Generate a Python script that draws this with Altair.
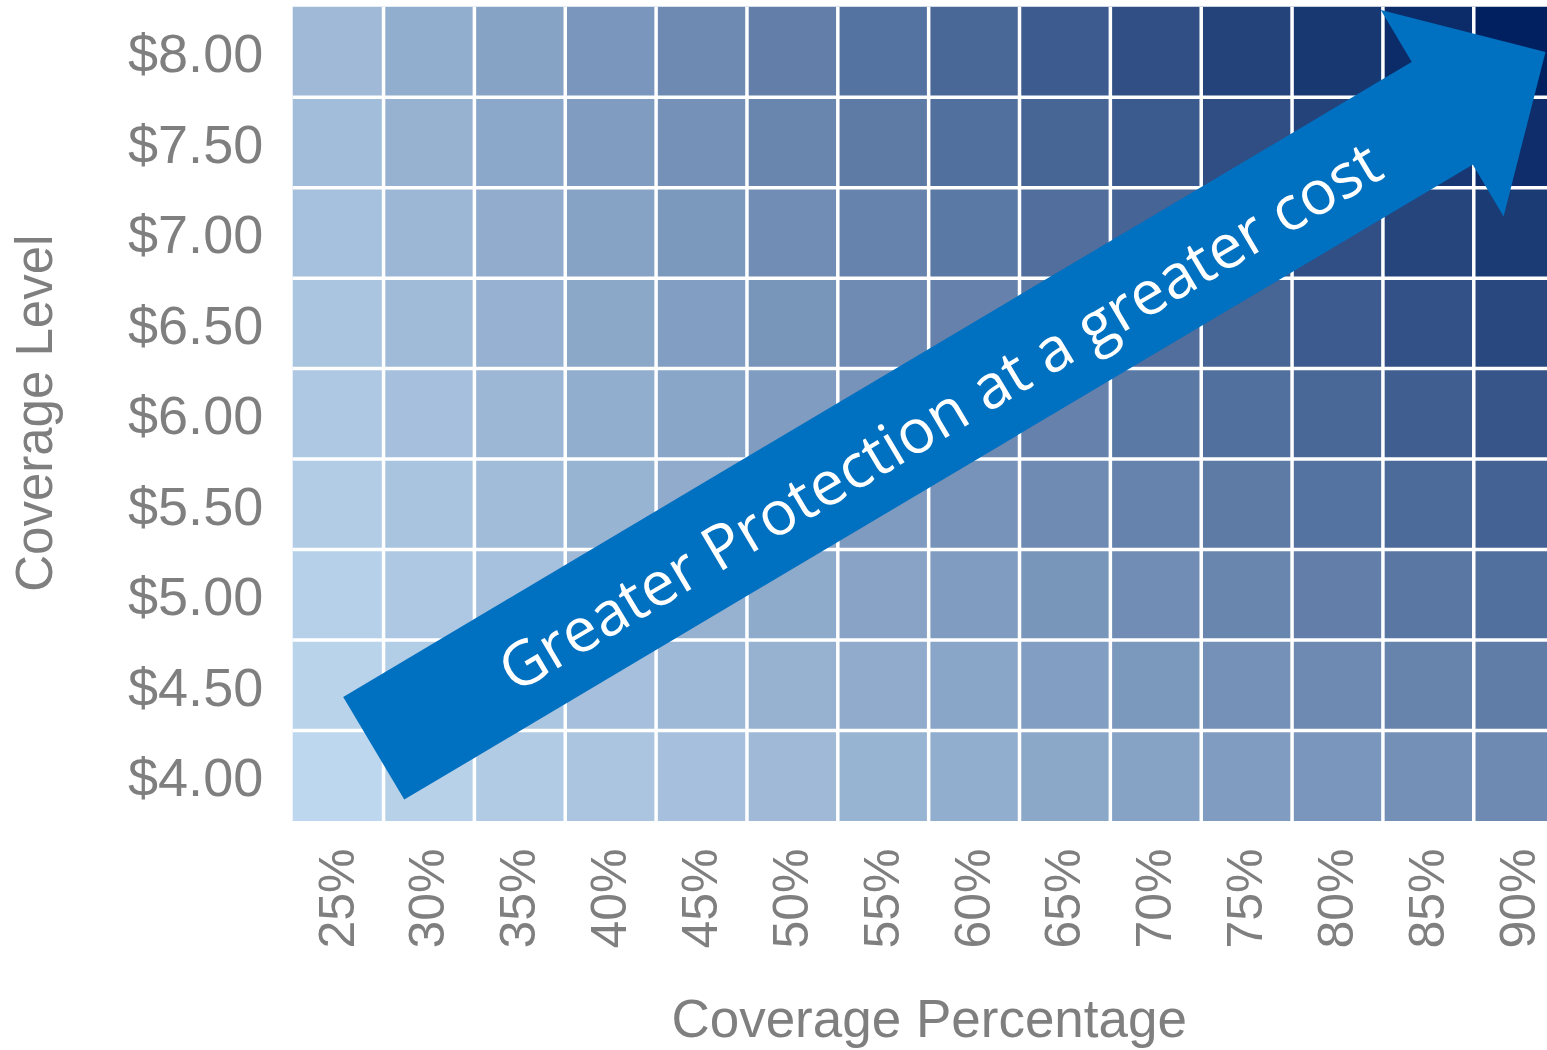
import altair as alt
import pandas as pd

# Coverage levels ($/cwt margin) and coverage percentages
levels = [4.00, 4.50, 5.00, 5.50, 6.00, 6.50, 7.00, 7.50, 8.00]
percentages = [25, 30, 35, 40, 45, 50, 55, 60, 65, 70, 75, 80, 85, 90]

# Protected margin per cell ($/cwt), one row per coverage level, $4.00 first
protected = [
    [1.000, 1.200, 1.400, 1.600, 1.800, 2.000, 2.200, 2.400, 2.600, 2.800, 3.000, 3.200, 3.400, 3.600],
    [1.125, 1.350, 1.575, 1.800, 2.025, 2.250, 2.475, 2.700, 2.925, 3.150, 3.375, 3.600, 3.825, 4.050],
    [1.250, 1.500, 1.750, 2.000, 2.250, 2.500, 2.750, 3.000, 3.250, 3.500, 3.750, 4.000, 4.250, 4.500],
    [1.375, 1.650, 1.925, 2.200, 2.475, 2.750, 3.025, 3.300, 3.575, 3.850, 4.125, 4.400, 4.675, 4.950],
    [1.500, 1.800, 2.100, 2.400, 2.700, 3.000, 3.300, 3.600, 3.900, 4.200, 4.500, 4.800, 5.100, 5.400],
    [1.625, 1.950, 2.275, 2.600, 2.925, 3.250, 3.575, 3.900, 4.225, 4.550, 4.875, 5.200, 5.525, 5.850],
    [1.750, 2.100, 2.450, 2.800, 3.150, 3.500, 3.850, 4.200, 4.550, 4.900, 5.250, 5.600, 5.950, 6.300],
    [1.875, 2.250, 2.625, 3.000, 3.375, 3.750, 4.125, 4.500, 4.875, 5.250, 5.625, 6.000, 6.375, 6.750],
    [2.000, 2.400, 2.800, 3.200, 3.600, 4.000, 4.400, 4.800, 5.200, 5.600, 6.000, 6.400, 6.800, 7.200],
]

# Annotation arrow: tail centre, end of shaft, base of head, label anchor (data units)
arrow_tail = [26.96, 4.152]
arrow_shaft_end = [86.24, 7.689]
arrow_head_base = [85.764, 7.661]
arrow_label_pos = [58.21, 5.969]
arrow_label = "Greater Protection at a greater cost"
arrow_angle = 329.28

half_col = 2.5
half_row = 0.25

rows = []
for i, lvl in enumerate(levels):
    for j, pct in enumerate(percentages):
        rows.append({
            "level": lvl,
            "pct": pct,
            "protected": protected[i][j],
            "x0": pct - half_col,
            "x1": pct + half_col,
            "y0": lvl - half_row,
            "y1": lvl + half_row,
        })
cells = pd.DataFrame(rows)

x_bounds = pd.DataFrame({"xb": [(a + b) / 2 for a, b in zip(percentages[:-1], percentages[1:])]})
y_bounds = pd.DataFrame({"yb": [(a + b) / 2 for a, b in zip(levels[:-1], levels[1:])]})

GREY = "#7f7f7f"
FONT = "Liberation Sans"
ARROW_BLUE = "#0070C0"

x_scale = alt.Scale(domain=[22.5, 91.53], nice=False, zero=False)
y_scale = alt.Scale(domain=[3.75, 8.25], nice=False, zero=False)

x_axis = alt.Axis(
    values=percentages,
    labelExpr="datum.value + '%'",
    title="Coverage Percentage",
    labelAngle=270,
    labelAlign="right",
    labelBaseline="middle",
    labelPadding=27,
    labelFlush=False,
    labelOverlap=False,
    labelFont=FONT,
    labelFontSize=50,
    labelColor=GREY,
    titleFont=FONT,
    titleFontSize=53,
    titleFontWeight="normal",
    titleColor=GREY,
    titleX=636,
    titleY=215,
    titleAlign="center",
    titleBaseline="alphabetic",
    domain=False,
    ticks=False,
    tickSize=0,
    grid=False,
)

y_axis = alt.Axis(
    values=levels,
    format="$.2f",
    title="Coverage Level",
    labelPadding=30,
    labelOffset=4,
    labelFlush=False,
    labelOverlap=False,
    labelFont=FONT,
    labelFontSize=54,
    labelColor=GREY,
    titleFont=FONT,
    titleFontSize=51,
    titleFontWeight="normal",
    titleColor=GREY,
    titleAngle=270,
    titleX=-241,
    titleY=406,
    titleAlign="center",
    titleBaseline="alphabetic",
    domain=False,
    ticks=False,
    tickSize=0,
    grid=False,
)

heat = alt.Chart(cells).mark_rect().encode(
    x=alt.X("x0:Q", scale=x_scale, axis=x_axis),
    x2="x1:Q",
    y=alt.Y("y0:Q", scale=y_scale, axis=y_axis),
    y2="y1:Q",
    color=alt.Color(
        "protected:Q",
        scale=alt.Scale(domain=[1.0, 7.2], range=["#BDD7EE", "#002060"], interpolate="rgb"),
        legend=None,
    ),
)

# White separators between the cells
v_gaps = alt.Chart(x_bounds).mark_rule(color="white", strokeWidth=3.5).encode(
    x=alt.X("xb:Q", scale=x_scale, axis=x_axis)
)
h_gaps = alt.Chart(y_bounds).mark_rule(color="white", strokeWidth=3.5).encode(
    y=alt.Y("yb:Q", scale=y_scale, axis=y_axis)
)

arrow_df = pd.DataFrame({
    "x": [arrow_tail[0]], "y": [arrow_tail[1]],
    "x2": [arrow_shaft_end[0]], "y2": [arrow_shaft_end[1]],
})
shaft = alt.Chart(arrow_df).mark_rule(
    color=ARROW_BLUE, strokeWidth=119.5, strokeCap="butt"
).encode(
    x=alt.X("x:Q", scale=x_scale, axis=x_axis),
    y=alt.Y("y:Q", scale=y_scale, axis=y_axis),
    x2="x2:Q",
    y2="y2:Q",
)

head_df = pd.DataFrame({"x": [arrow_head_base[0]], "y": [arrow_head_base[1]]})
head = alt.Chart(head_df).mark_point(
    shape="M0,-1L1,0L0,1Z",
    filled=True,
    fill=ARROW_BLUE,
    color=ARROW_BLUE,
    opacity=1,
    strokeWidth=0,
    size=57744,
    angle=arrow_angle,
).encode(
    x=alt.X("x:Q", scale=x_scale, axis=x_axis),
    y=alt.Y("y:Q", scale=y_scale, axis=y_axis),
)

label_df = pd.DataFrame({"x": [arrow_label_pos[0]], "y": [arrow_label_pos[1]], "t": [arrow_label]})
label = alt.Chart(label_df).mark_text(
    font="Open Sans",
    fontSize=61.5,
    color="white",
    align="center",
    baseline="middle",
    angle=arrow_angle,
).encode(
    x=alt.X("x:Q", scale=x_scale, axis=x_axis),
    y=alt.Y("y:Q", scale=y_scale, axis=y_axis),
    text="t:N",
)

chart = alt.layer(heat, v_gaps, h_gaps, shaft, head, label).properties(
    width=1254.3,
    height=814.3,
    padding={"left": 292.7, "top": 6.7, "right": 0, "bottom": 229},
    autosize=alt.AutoSizeParams(type="none"),
    background="white",
).configure_view(stroke=None)

chart.save("out.html", embed_options={"renderer": "svg", "actions": False})
